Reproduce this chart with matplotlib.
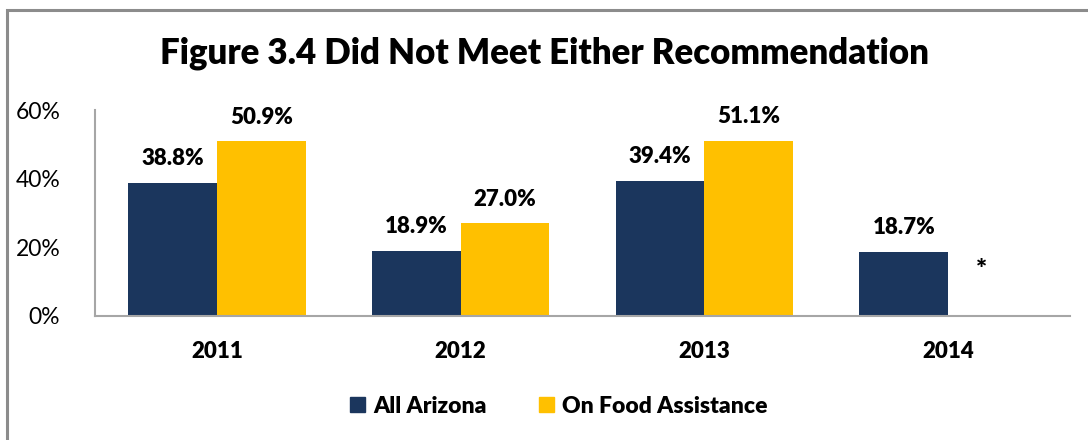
import numpy as np
import matplotlib.pyplot as plt
from matplotlib.patches import Rectangle

plt.rcParams['font.family'] = ['Lato', 'DejaVu Sans']

# Share not meeting either recommendation, by year
years = ["2011", "2012", "2013", "2014"]
all_arizona = [38.8, 18.9, 39.4, 18.7]
food_assistance = [50.9, 27.0, 51.1, None]   # 2014 not reported

navy = "#1b365d"
gold = "#ffc000"
bold = "heavy"

fig = plt.figure(figsize=(10.88, 4.4), dpi=100)
ax = fig.add_axes([95 / 1088, 1 - 316 / 440, (1070 - 95) / 1088, (316 - 110) / 440])

# outer chart border (runs off the right and bottom edges)
fig.patches.append(Rectangle((7 / 1088, -0.05), 1.1, 1 - 10 / 440 + 0.05,
                             transform=fig.transFigure, fill=False,
                             edgecolor="#8c8c8c", linewidth=2.2))

x = np.arange(len(years))
w = 1 / 2.75
for i, v in enumerate(all_arizona):
    ax.bar(x[i] - w / 2, v, w, color=navy)
    ax.text(x[i] - w / 2, v + 4, f"{v:.1f}%", ha="center", va="bottom",
            fontsize=16, fontweight=bold)
for i, v in enumerate(food_assistance):
    if v is None:
        ax.text(x[i] + w / 2 - 0.045, 13.5, "*", ha="center", va="center",
                fontsize=19, fontweight=bold)
        continue
    ax.bar(x[i] + w / 2, v, w, color=gold)
    ax.text(x[i] + w / 2, v + 4, f"{v:.1f}%", ha="center", va="bottom",
            fontsize=16, fontweight=bold)

ax.set_xlim(-0.5, len(years) - 0.5)
ax.set_ylim(0, 60)
ax.set_yticks([0, 20, 40, 60])
ax.set_yticklabels(["0%", "20%", "40%", "60%"], fontsize=16.5)
ax.set_xticks(x)
ax.set_xticklabels(years, fontsize=16, fontweight=bold)
ax.tick_params(axis="both", length=0)
ax.tick_params(axis="y", pad=25)
ax.tick_params(axis="x", pad=18)
for s in ["top", "right"]:
    ax.spines[s].set_visible(False)
for s in ["left", "bottom"]:
    ax.spines[s].set_color("#a6a6a6")
    ax.spines[s].set_linewidth(1.5)

fig.text(0.5, 1 - 53 / 440, "Figure 3.4 Did Not Meet Either Recommendation",
         ha="center", va="center", fontsize=25, fontweight=bold)

handles = [Rectangle((0, 0), 1, 1, color=navy), Rectangle((0, 0), 1, 1, color=gold)]
fig.legend(handles, ["All Arizona", "On Food Assistance"], loc="center",
           bbox_to_anchor=(559 / 1088, 1 - 406 / 440), ncol=2, frameon=False,
           prop={"size": 16.5, "weight": bold}, handlelength=0.65,
           handleheight=0.65, handletextpad=0.35, columnspacing=2.3)

fig.savefig("out.png", dpi=100)
